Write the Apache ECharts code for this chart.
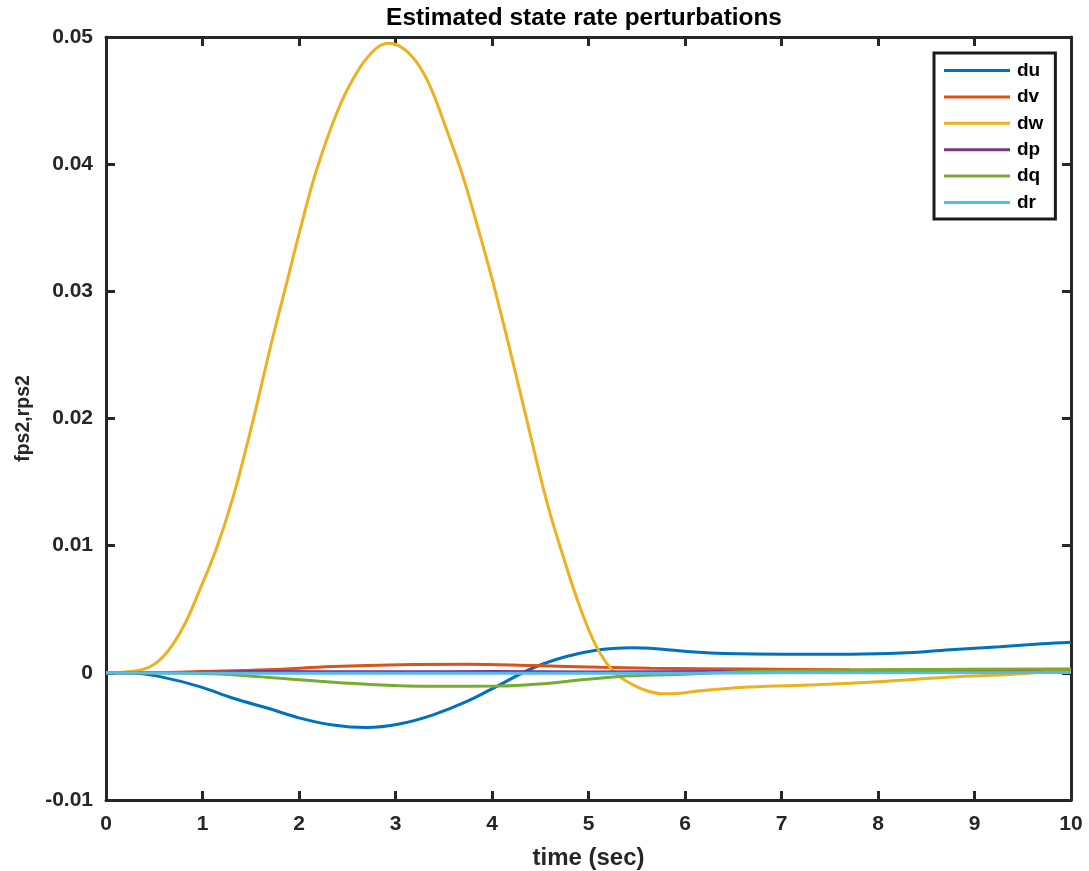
<!DOCTYPE html>
<html>
<head>
<meta charset="utf-8">
<title>Estimated state rate perturbations</title>
<script src="https://cdn.jsdelivr.net/npm/echarts@6/dist/echarts.min.js"></script>
<style>
  html, body { margin: 0; padding: 0; background: #ffffff; }
  #chart { width: 1089px; height: 871px; }
</style>
</head>
<body>
<div id="chart"></div>
<script>
// Time histories of the estimated state rate perturbations, [time (sec), value]
const duData = [
  [0, 0], [0.3, -0.00003], [0.56, -0.0003], [0.97, -0.00108], [1.32, -0.0020], [1.67, -0.00277],
  [2.01, -0.00356], [2.35, -0.0041], [2.70, -0.0043], [3.05, -0.0040], [3.39, -0.0033],
  [3.74, -0.00225], [4.08, -0.00094], [4.43, 0.0004], [4.77, 0.00128], [5.08, 0.00178],
  [5.29, 0.00194], [5.45, 0.00198], [5.64, 0.00194], [5.85, 0.00180], [6.10, 0.00164],
  [6.40, 0.00153], [7.02, 0.00147], [7.71, 0.00147], [8.23, 0.00155], [8.75, 0.00182],
  [9.26, 0.00205], [9.70, 0.00228], [10, 0.0024]
];
const dvData = [
  [0, 0], [0.5, 0.00002], [0.97, 0.0001], [1.67, 0.00024], [2.35, 0.0005], [3.05, 0.00064],
  [3.74, 0.00067], [4.43, 0.00057], [5.12, 0.00044], [5.64, 0.00037], [6.67, 0.0003],
  [7.71, 0.00024], [8.5, 0.00022], [10, 0.0002]
];
const dwData = [
  [0, 0], [0.25, 0.0001], [0.46, 0.0005], [0.63, 0.0016], [0.80, 0.0036], [0.97, 0.0065],
  [1.15, 0.0099], [1.32, 0.0139], [1.49, 0.0188], [1.71, 0.0258], [1.87, 0.0306],
  [2.01, 0.0348], [2.18, 0.0395], [2.39, 0.0440], [2.56, 0.0467], [2.77, 0.0489],
  [2.93, 0.0495], [3.08, 0.0491], [3.22, 0.0480], [3.36, 0.0461], [3.53, 0.0427],
  [3.70, 0.0390], [3.88, 0.0343], [4.01, 0.0307], [4.16, 0.0262], [4.36, 0.0199],
  [4.57, 0.0134], [4.74, 0.0091], [4.91, 0.0052], [5.08, 0.0021], [5.26, 0.0001],
  [5.46, -0.00094], [5.62, -0.00145], [5.77, -0.00165], [5.95, -0.00160], [6.16, -0.0014],
  [6.67, -0.00112], [7.36, -0.00094], [8.05, -0.00068], [8.75, -0.00033], [9.44, -0.0001],
  [10, 0.0003]
];
const dpData = [
  [0, 0], [1, 0.00004], [1.65, 0.0001], [3, 0.00008], [4, 0.0001], [5, 0.00007],
  [6.4, 0.0001], [8, 0.00006], [10, 0.00004]
];
const dqData = [
  [0, 0], [1.0, -0.00005], [1.49, -0.00024], [2.01, -0.00055], [2.70, -0.00089],
  [3.39, -0.00106], [4.08, -0.00104], [4.6, -0.00081], [4.77, -0.00068], [5.29, -0.0003],
  [5.98, -0.00012], [6.67, 0.0001], [8.05, 0.00024], [9.78, 0.0003], [10, 0.0003]
];
const drData = [
  [0, 0], [2, -0.00004], [5, -0.00004], [7, 0], [10, 0.00003]
];

const seriesNames = ['du', 'dv', 'dw', 'dp', 'dq', 'dr'];
const seriesData = [duData, dvData, dwData, dpData, dqData, drData];
const seriesColors = ['#0072BD', '#D95319', '#EDB120', '#7E2F8E', '#77AC30', '#4DBEEE'];

const xTicks = { min: 0, max: 10, interval: 1 };
const yTicks = { min: -0.01, max: 0.05, interval: 0.01 };

const FONT = '"Liberation Sans", Arial, Helvetica, sans-serif';
const INK = '#262626';

const chart = echarts.init(document.getElementById('chart'), null, { renderer: 'canvas' });

function yLabel(v) {
  if (Math.abs(v) < 1e-9) return '0';
  return v.toFixed(2);
}

const frameAxis = {
  axisLine: { show: true, onZero: false, lineStyle: { color: INK, width: 3 } },
  axisTick: { show: true, inside: true, length: 9, lineStyle: { color: INK, width: 3 } },
  splitLine: { show: false }
};

const option = {
  animation: false,
  backgroundColor: '#ffffff',
  title: {
    text: 'Estimated state rate perturbations',
    left: 584,
    textAlign: 'center',
    top: 6,
    padding: 0,
    textStyle: { fontFamily: FONT, fontSize: 24.4, fontWeight: 'bold', color: '#000000' }
  },
  legend: {
    data: seriesNames,
    orient: 'vertical',
    left: 934,
    top: 53,
    padding: [8, 12, 7, 10],
    itemGap: 7.4,
    itemWidth: 66,
    itemHeight: 3,
    icon: 'rect',
    borderColor: '#1a1a1a',
    borderWidth: 3,
    backgroundColor: '#ffffff',
    textStyle: { fontFamily: FONT, fontSize: 19, fontWeight: 'bold', color: '#000000', lineHeight: 18, padding: [0, 0, 0, 2] }
  },
  grid: { left: 106, right: 18, top: 37, bottom: 71, containLabel: false, outerBoundsMode: 'none' },
  xAxis: [
    Object.assign({
      type: 'value', position: 'bottom',
      min: xTicks.min, max: xTicks.max, interval: xTicks.interval,
      name: 'time (sec)', nameLocation: 'middle', nameGap: 46,
      nameTextStyle: { fontFamily: FONT, fontSize: 24, fontWeight: 'bold', color: INK },
      axisLabel: { margin: 14, fontFamily: FONT, fontSize: 21, fontWeight: 'bold', color: INK }
    }, frameAxis),
    Object.assign({
      type: 'value', position: 'top',
      min: xTicks.min, max: xTicks.max, interval: xTicks.interval,
      axisLabel: { show: false }
    }, frameAxis)
  ],
  yAxis: [
    Object.assign({
      type: 'value', position: 'left',
      min: yTicks.min, max: yTicks.max, interval: yTicks.interval,
      name: 'fps2,rps2', nameLocation: 'middle', nameGap: 72,
      nameTextStyle: { fontFamily: FONT, fontSize: 19.5, fontWeight: 'bold', color: INK },
      axisLabel: { margin: 13, fontFamily: FONT, fontSize: 21, fontWeight: 'bold', color: INK, formatter: yLabel }
    }, frameAxis),
    Object.assign({
      type: 'value', position: 'right',
      min: yTicks.min, max: yTicks.max, interval: yTicks.interval,
      axisLabel: { show: false }
    }, frameAxis)
  ],
  series: seriesNames.map((name, i) => ({
    name: name,
    type: 'line',
    xAxisIndex: 0,
    yAxisIndex: 0,
    data: seriesData[i],
    showSymbol: false,
    symbol: 'none',
    smooth: 0.4,
    color: seriesColors[i],
    lineStyle: { color: seriesColors[i], width: 3 },
    z: 2 + i
  }))
};

chart.setOption(option);
</script>
</body>
</html>
